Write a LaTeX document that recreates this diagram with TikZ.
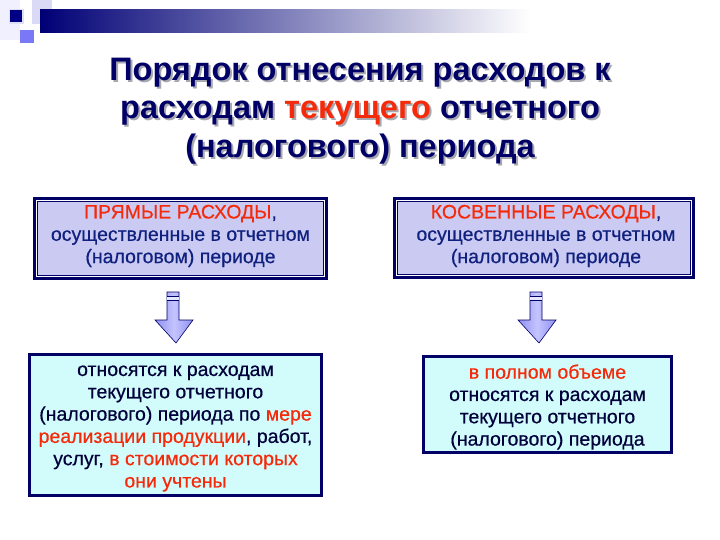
\documentclass[tikz,border=0pt]{standalone}
\usepackage{fontspec}
\setmainfont{Liberation Sans}
\newfontfamily\boxfont{Liberation Sans}[FakeBold=0.5]
\definecolor{navy}{HTML}{000066}
\definecolor{txtblue}{HTML}{10207E}
\definecolor{txtdark}{HTML}{00003A}
\definecolor{redt}{HTML}{F52A0A}
\definecolor{lav}{HTML}{CACAF2}
\definecolor{cyanf}{HTML}{D2FCFC}
\definecolor{arrowf}{HTML}{9090F0}
\definecolor{arrowl}{HTML}{C4C4FF}
\definecolor{shadowc}{HTML}{A8A8B0}
\newcommand\ttltext[1]{Порядок отнесения расходов к\\расходам \textcolor{#1}{текущего} отчетного\\(налогового) периода}
\begin{document}
\begin{tikzpicture}[x=1pt,y=-1pt,
  titlestyle/.style={align=center,font=\fontsize{32.5}{38.5}\selectfont\bfseries,inner sep=0pt},
  topbox/.style={draw=navy,line width=5pt,fill=lav,inner sep=0pt},
  lowbox/.style={draw=navy,line width=3pt,fill=cyanf,inner sep=0pt},
  boxtext/.style={align=center,font=\boxfont\fontsize{19.5}{22.3}\selectfont,inner sep=0pt},
  arrowbody/.style={left color=arrowf,right color=arrowf,middle color=arrowl},
  bandline/.style={navy,line width=1pt}]
\useasboundingbox (0,0) rectangle (720,540);
\fill[white] (0,0) rectangle (720,540);
% top decoration
\fill[black!6!blue!6] (0,0) rectangle (20,40);
\fill[lav!70] (32,0) rectangle (52,24);
\shade[left color=navy!90!blue, middle color=black!22!blue!14, right color=white] (40,10) rectangle (530,33);
\fill[lav!60] (9,9) rectangle (24,24);
\fill[navy!80!blue] (10,10) rectangle (22,22);
\fill[blue!40!lav] (20,30) rectangle (34,43);
% title
\node[titlestyle,text=shadowc] (tshadow) at (362,113) {\ttltext{shadowc}};
\node[titlestyle,text=navy] (title) at (360,111) {\ttltext{redt}};
% top boxes
\node[topbox,minimum width=290pt,minimum height=77pt] (b1) at (180.5,238.5) {};
\node[topbox,minimum width=297pt,minimum height=77pt] (b2) at (544,238) {};
\draw[white,line width=0.8pt] ([shift={(3.3pt,-3.3pt)}]b1.north west) rectangle ([shift={(-3.3pt,3.3pt)}]b1.south east);
\draw[white,line width=0.8pt] ([shift={(3.3pt,-3.3pt)}]b2.north west) rectangle ([shift={(-3.3pt,3.3pt)}]b2.south east);
\node[boxtext,text=txtblue] (b1t) at (180.5,236)
  {\textcolor{redt}{ПРЯМЫЕ РАСХОДЫ},\\осуществленные в отчетном\\(налоговом) периоде};
\node[boxtext,text=txtblue] (b2t) at (546,236)
  {\textcolor{redt}{КОСВЕННЫЕ РАСХОДЫ},\\осуществленные в отчетном\\(налоговом) периоде};
% lower boxes
\node[lowbox,minimum width=292pt,minimum height=141pt] (b3) at (175.5,425) {};
\node[boxtext,text=txtdark] (b3t) at (175.5,428.5)
  {относятся к расходам\\текущего отчетного\\(налогового) периода по \textcolor{redt}{мере}\\\textcolor{redt}{реализации продукции}, работ,\\услуг, \textcolor{redt}{в стоимости которых}\\\textcolor{redt}{они учтены}};
\node[lowbox,minimum width=248pt,minimum height=96pt] (b4) at (547.5,404.5) {};
\node[boxtext,text=txtdark] (b4t) at (547.5,407)
  {\textcolor{redt}{в полном объеме}\\относятся к расходам\\текущего отчетного\\(налогового) периода};
% block arrows
\foreach \c/\nm in {173/a1,536/a2}{
  \path[arrowbody] (\c-6,292) -- (\c+6,292) -- (\c+6,320) -- (\c+20,320) -- (\c+3,343) -- (\c-18,320) -- (\c-6,320) -- cycle;
  \draw[navy,line width=0.6pt] (\c-6,292) -- (\c+6,292) -- (\c+6,320) -- (\c+20,320) -- (\c+3,343) -- (\c-18,320) -- (\c-6,320) -- cycle;
  \fill[white!60!arrowl] (\c-6,297) rectangle (\c+6,299.5);
  \draw[bandline] (\c-6,296.5) -- (\c+6,296.5);
  \draw[bandline] (\c-6,300) -- (\c+6,300);
}
\end{tikzpicture}
\end{document}
